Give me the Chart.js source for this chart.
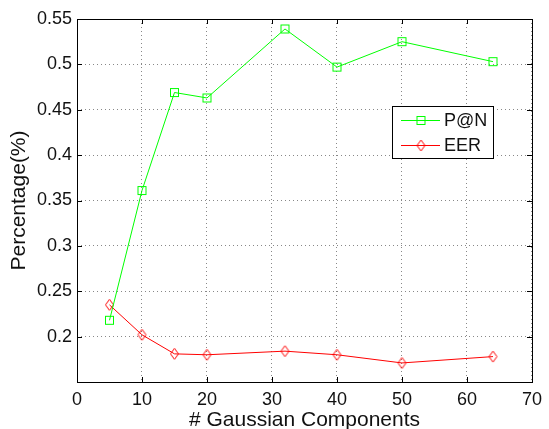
<!DOCTYPE html>
<html>
<head>
<meta charset="utf-8">
<script src="https://cdn.jsdelivr.net/npm/chart.js@4/dist/chart.umd.min.js"></script>
<style>
  html, body { margin: 0; padding: 0; background: #fff; }
  #wrap { width: 549px; height: 429px; }
</style>
</head>
<body>
<div id="wrap"><canvas id="chart" width="549" height="429"></canvas></div>
<script>
// data
const components = [5, 10, 15, 20, 32, 40, 50, 64];
const pAtN = [0.218, 0.361, 0.469, 0.463, 0.539, 0.497, 0.525, 0.503];
const eer = [0.235, 0.202, 0.181, 0.180, 0.184, 0.180, 0.171, 0.178];
const yTicks = [0.15, 0.2, 0.25, 0.3, 0.35, 0.4, 0.45, 0.5, 0.55];
const xTicks = [0, 10, 20, 30, 40, 50, 60, 70];

const FONT = 'Liberation Sans, Arial, Helvetica, sans-serif';

// MATLAB-like markers
function makeSquare(color) {
    const c = document.createElement('canvas');
    c.width = 11; c.height = 11;
    const g = c.getContext('2d');
    g.strokeStyle = color; g.lineWidth = 1;
    g.strokeRect(1.5, 1.5, 8, 8);
    return c;
}
function makeDiamond(color) {
    const c = document.createElement('canvas');
    c.width = 11; c.height = 13;
    const g = c.getContext('2d');
    g.strokeStyle = color; g.lineWidth = 1;
    g.beginPath();
    g.moveTo(5.5, 1); g.lineTo(9.5, 6.5); g.lineTo(5.5, 12); g.lineTo(1.5, 6.5);
    g.closePath(); g.stroke();
    return c;
}
const sqMark = makeSquare('#00ff00');
const diaMark = makeDiamond('#ff0000');

// frame, inward ticks and legend box
const matlabBox = {
    id: 'matlabBox',
    afterDraw(chart) {
        const ctx = chart.ctx;
        const a = chart.chartArea;
        const xs = chart.scales.x, ys = chart.scales.y;
        ctx.save();
        ctx.strokeStyle = '#000';
        ctx.lineWidth = 1;
        ctx.strokeRect(Math.round(a.left) + 0.5, Math.round(a.top) + 0.5,
            Math.round(a.right - a.left), Math.round(a.bottom - a.top));
        ctx.beginPath();
        xTicks.forEach(v => {
            const px = Math.round(xs.getPixelForValue(v)) + 0.5;
            ctx.moveTo(px, a.bottom); ctx.lineTo(px, a.bottom - 5);
            ctx.moveTo(px, a.top); ctx.lineTo(px, a.top + 5);
        });
        yTicks.forEach(v => {
            const py = Math.round(ys.getPixelForValue(v)) + 0.5;
            ctx.moveTo(a.left, py); ctx.lineTo(a.left + 5, py);
            ctx.moveTo(a.right, py); ctx.lineTo(a.right - 5, py);
        });
        ctx.stroke();

        // legend
        const lx = 392, ly = 106, lw = 101, lh = 52;
        ctx.fillStyle = '#fff';
        ctx.fillRect(lx, ly, lw, lh);
        ctx.lineWidth = 1;
        ctx.strokeRect(lx + 0.5, ly + 0.5, lw, lh);
        const items = [
            { label: 'P@N', color: '#00ff00', mark: sqMark, y: ly + 14 },
            { label: 'EER', color: '#ff0000', mark: diaMark, y: ly + 39 }
        ];
        ctx.font = '18px ' + FONT;
        ctx.textBaseline = 'middle';
        items.forEach(it => {
            ctx.strokeStyle = it.color;
            ctx.beginPath();
            ctx.moveTo(lx + 9, it.y + 0.5); ctx.lineTo(lx + 48, it.y + 0.5);
            ctx.stroke();
            ctx.drawImage(it.mark, lx + 29 - it.mark.width / 2, it.y - it.mark.height / 2 + 0.5);
            ctx.fillStyle = '#111';
            ctx.fillText(it.label, lx + 52, it.y + 1);
        });
        ctx.restore();
    }
};

new Chart(document.getElementById('chart'), {
    type: 'line',
    data: {
        datasets: [
            {
                label: 'P@N',
                data: components.map((x, i) => ({ x, y: pAtN[i] })),
                borderColor: '#00ff00',
                backgroundColor: '#00ff00',
                borderWidth: 1,
                pointStyle: sqMark,
                tension: 0
            },
            {
                label: 'EER',
                data: components.map((x, i) => ({ x, y: eer[i] })),
                borderColor: '#ff0000',
                backgroundColor: '#ff0000',
                borderWidth: 1,
                pointStyle: diaMark,
                tension: 0
            }
        ]
    },
    options: {
        responsive: false,
        animation: false,
        layout: { padding: { top: 19, right: 12, left: 0, bottom: 0 } },
        plugins: {
            legend: { display: false },
            tooltip: { enabled: false }
        },
        scales: {
            x: {
                type: 'linear',
                min: 0, max: 70,
                afterBuildTicks: s => { s.ticks = xTicks.map(v => ({ value: v })); },
                afterFit: s => { s.height = 47; },
                grid: { color: '#888', drawTicks: false, lineWidth: 1 },
                border: { display: false, dash: [1, 3] },
                ticks: { color: '#111', font: { size: 18, family: FONT }, padding: 7, maxRotation: 0 },
                title: { display: true, text: '# Gaussian Components', color: '#111',
                         font: { size: 21, family: FONT }, padding: { top: 0, bottom: -4 } }
            },
            y: {
                min: 0.15, max: 0.55,
                afterBuildTicks: s => { s.ticks = yTicks.map(v => ({ value: v })); },
                afterFit: s => { s.width = 77; },
                grid: { color: '#888', drawTicks: false, lineWidth: 1 },
                border: { display: false, dash: [1, 3] },
                ticks: {
                    color: '#111', font: { size: 18, family: FONT }, padding: 5,
                    callback: v => (Math.abs(v - 0.15) < 1e-6 ? '' : String(+v.toFixed(2)))
                },
                title: { display: true, text: 'Percentage(%)', color: '#111',
                         font: { size: 21, family: FONT }, padding: { top: 7, bottom: 0 } }
            }
        }
    },
    plugins: [matlabBox]
});
</script>
</body>
</html>
